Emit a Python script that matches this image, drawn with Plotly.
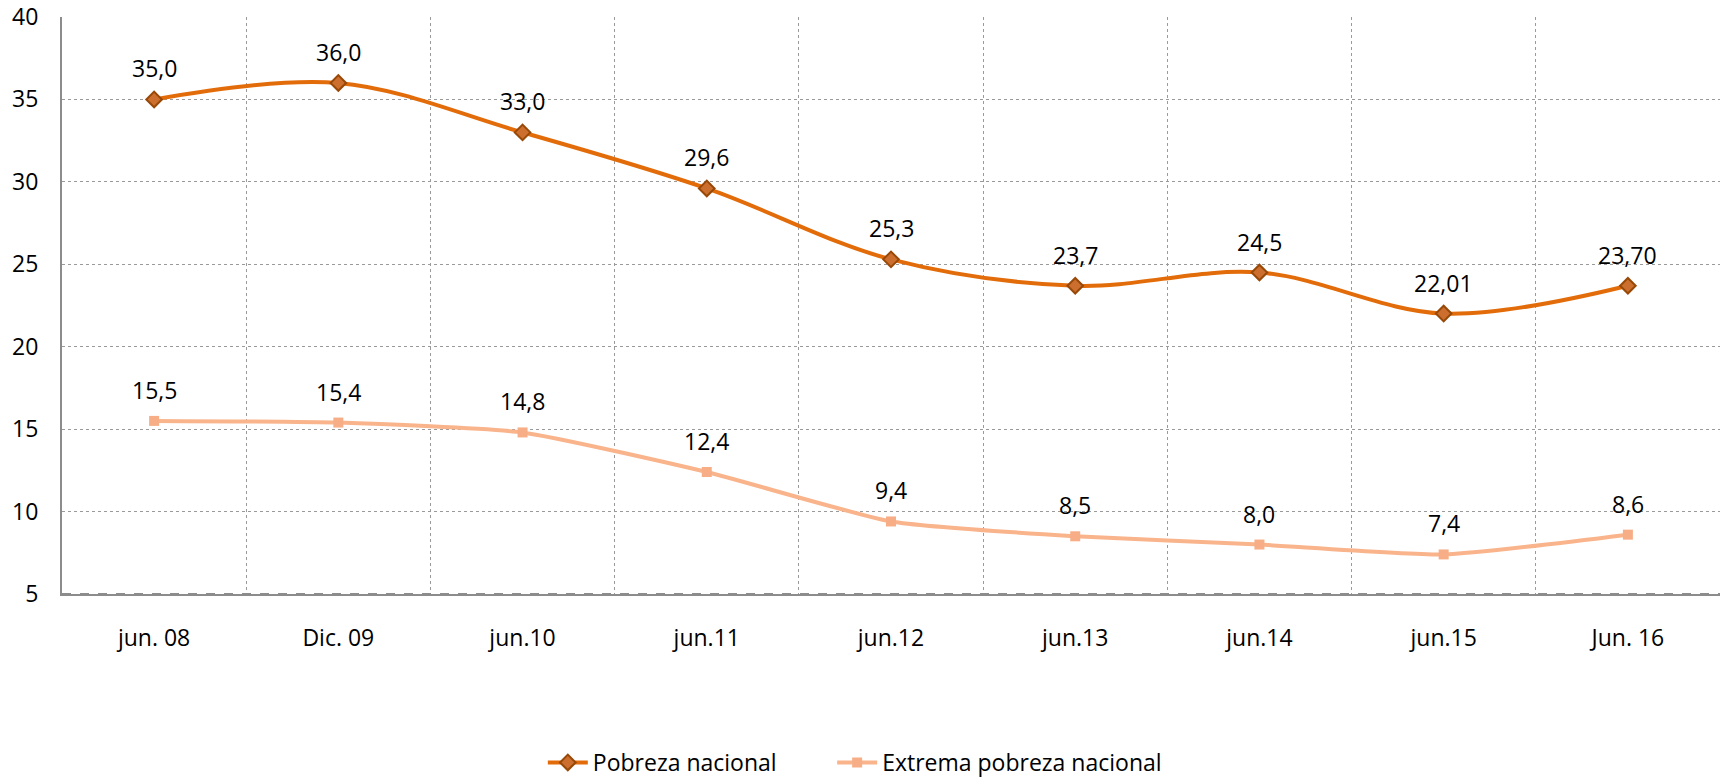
import plotly.graph_objects as go

periodos = ['jun. 08', 'Dic. 09', 'jun.10', 'jun.11', 'jun.12', 'jun.13', 'jun.14', 'jun.15', 'Jun. 16']
pobreza = [35.0, 36.0, 33.0, 29.6, 25.3, 23.7, 24.5, 22.01, 23.70]
pobreza_txt = ['35,0', '36,0', '33,0', '29,6', '25,3', '23,7', '24,5', '22,01', '23,70']
extrema = [15.5, 15.4, 14.8, 12.4, 9.4, 8.5, 8.0, 7.4, 8.6]
extrema_txt = ['15,5', '15,4', '14,8', '12,4', '9,4', '8,5', '8,0', '7,4', '8,6']
y_ticks = [5, 10, 15, 20, 25, 30, 35, 40]

fuente = 'Open Sans'
tam = 23

fig = go.Figure()
fig.add_trace(go.Scatter(
    x=periodos, y=pobreza, name='Pobreza nacional', mode='lines+markers',
    line=dict(color='#E36C0A', width=4, shape='spline', smoothing=1),
    marker=dict(symbol='diamond', size=12, color='#CB6E2E', line=dict(color='#984807', width=2)),
    legend='legend',
))
fig.add_trace(go.Scatter(
    x=periodos, y=extrema, name='Extrema pobreza nacional', mode='lines+markers',
    line=dict(color='#F9B48C', width=4, shape='spline', smoothing=0.5),
    marker=dict(symbol='square', size=10, color='#F7AE86'),
    legend='legend2',
))

# etiquetas de datos encima de cada punto
for serie, textos in ((pobreza, pobreza_txt), (extrema, extrema_txt)):
    for xi, yi, t in zip(periodos, serie, textos):
        fig.add_annotation(x=xi, y=yi, text=t, showarrow=False, yshift=31,
                           font=dict(family=fuente, size=tam, color='#000000'))

leyenda = dict(orientation='h', xanchor='left', y=-0.292, yanchor='middle',
               font=dict(family=fuente, size=tam), itemwidth=40, bgcolor='rgba(0,0,0,0)')

fig.update_layout(
    width=1726, height=779,
    margin=dict(l=62, r=6, t=17, b=185, autoexpand=False),
    plot_bgcolor='white', paper_bgcolor='white',
    font=dict(family=fuente, size=tam, color='#000000'),
    showlegend=True,
    legend=dict(leyenda, x=0.290),
    legend2=dict(leyenda, x=0.4645),
)
fig.update_xaxes(
    type='category', tickson='boundaries', showgrid=True, gridcolor='#9A9A9A', griddash='dot',
    gridwidth=1, showline=True, linecolor='#8C8C8C', linewidth=2, ticks='',
    ticklabelstandoff=22, range=[-0.5, 8.5], automargin=False,
)
fig.update_yaxes(
    range=[5, 40], tickvals=y_ticks, showgrid=True, gridcolor='#9A9A9A', griddash='dot',
    gridwidth=1, showline=True, linecolor='#8C8C8C', linewidth=2, ticks='',
    ticklabelstandoff=17, zeroline=False, automargin=False,
)
# linea inferior discontinua
fig.add_shape(type='line', xref='paper', yref='y', x0=0, x1=1, y0=5, y1=5,
              line=dict(color='#8C8C8C', width=2, dash='dash'))

# sin margen del body para que la figura quede en la esquina
fig.write_html('out.html', config={'displayModeBar': False},
               post_script="document.body.style.margin='0';")
